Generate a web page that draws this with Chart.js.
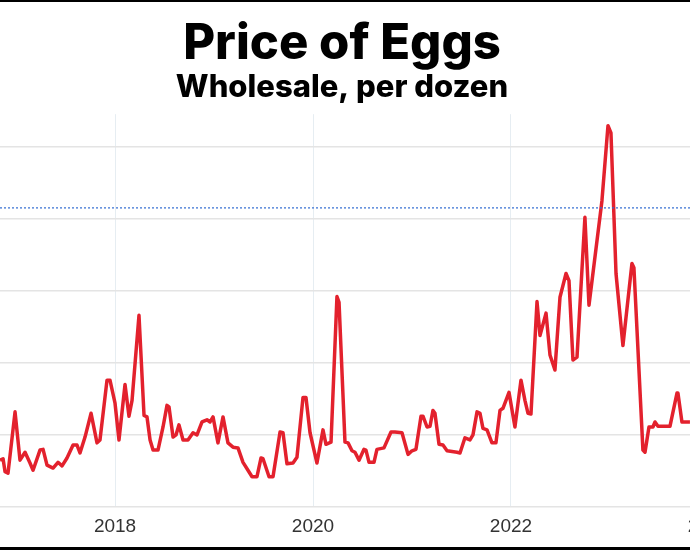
<!DOCTYPE html>
<html>
<head>
<meta charset="utf-8">
<title>Price of Eggs</title>
<script src="https://cdn.jsdelivr.net/npm/chart.js@4"></script>
<style>
  html, body { margin: 0; padding: 0; background: #fff; overflow: hidden; }
  body { width: 690px; height: 550px; position: relative; }
  #frame {
    position: absolute; left: 0; top: 0; width: 690px; height: 545px;
    border-top: 2px solid #000; border-bottom: 3px solid #000; overflow: hidden;
  }
  /* canvas runs past both sides, so the y labels and the last year are cut off */
  #wrap { position: absolute; left: -60px; top: 0; width: 804px; height: 545px; }
</style>
</head>
<body>
<div id="frame"><div id="wrap"><canvas id="eggChart"></canvas></div></div>
<script>
// Wholesale egg price, $ per dozen (decimal years)
const dates = [
  2016.838, 2016.869, 2016.889, 2016.919, 2016.990, 2017.040, 2017.091, 2017.141, 2017.172, 2017.242,
  2017.273, 2017.313, 2017.374, 2017.424, 2017.465, 2017.515, 2017.576, 2017.616, 2017.646, 2017.697,
  2017.758, 2017.818, 2017.848, 2017.919, 2017.949, 2018.000, 2018.040, 2018.101, 2018.141, 2018.172,
  2018.242, 2018.293, 2018.323, 2018.354, 2018.384, 2018.434, 2018.485, 2018.525, 2018.545, 2018.586,
  2018.616, 2018.646, 2018.687, 2018.737, 2018.788, 2018.828, 2018.879, 2018.929, 2018.960, 2018.990,
  2019.040, 2019.091, 2019.141, 2019.192, 2019.242, 2019.293, 2019.343, 2019.384, 2019.434, 2019.475,
  2019.495, 2019.556, 2019.596, 2019.667, 2019.697, 2019.737, 2019.798, 2019.838, 2019.899, 2019.929,
  2019.970, 2020.040, 2020.101, 2020.131, 2020.182, 2020.242, 2020.263, 2020.323, 2020.354, 2020.394,
  2020.424, 2020.465, 2020.515, 2020.535, 2020.566, 2020.616, 2020.646, 2020.717, 2020.788, 2020.828,
  2020.899, 2020.960, 2021.000, 2021.040, 2021.091, 2021.111, 2021.152, 2021.182, 2021.212, 2021.232,
  2021.273, 2021.313, 2021.354, 2021.455, 2021.485, 2021.535, 2021.586, 2021.616, 2021.657, 2021.687,
  2021.717, 2021.758, 2021.808, 2021.848, 2021.889, 2021.919, 2021.980, 2022.040, 2022.101, 2022.141,
  2022.172, 2022.202, 2022.263, 2022.293, 2022.354, 2022.394, 2022.444, 2022.495, 2022.556, 2022.586,
  2022.626, 2022.667, 2022.747, 2022.788, 2022.919, 2022.980, 2023.010, 2023.061, 2023.131, 2023.222,
  2023.242, 2023.333, 2023.354, 2023.394, 2023.434, 2023.455, 2023.485, 2023.606, 2023.677, 2023.687,
  2023.727, 2023.808
];
const prices = [
  0.65, 0.67, 0.49, 0.47, 1.32, 0.65, 0.76, 0.61, 0.51, 0.79,
  0.80, 0.58, 0.54, 0.62, 0.57, 0.68, 0.86, 0.86, 0.75, 0.97,
  1.30, 0.89, 0.93, 1.76, 1.76, 1.44, 0.93, 1.70, 1.26, 1.48,
  2.66, 1.27, 1.25, 0.93, 0.79, 0.79, 1.11, 1.41, 1.39, 0.97,
  1.00, 1.14, 0.93, 0.93, 1.03, 1.00, 1.18, 1.21, 1.18, 1.25,
  0.89, 1.25, 0.89, 0.83, 0.82, 0.62, 0.51, 0.42, 0.42, 0.68,
  0.67, 0.42, 0.42, 1.04, 1.03, 0.60, 0.61, 0.69, 1.52, 1.52,
  1.03, 0.61, 1.07, 0.87, 0.90, 2.92, 2.84, 0.90, 0.89, 0.78,
  0.76, 0.65, 0.80, 0.79, 0.62, 0.62, 0.80, 0.82, 1.04, 1.04,
  1.03, 0.73, 0.78, 0.80, 1.26, 1.26, 1.11, 1.12, 1.34, 1.30,
  0.87, 0.86, 0.78, 0.76, 0.75, 0.96, 0.93, 1.00, 1.32, 1.30,
  1.09, 1.07, 0.89, 0.89, 1.34, 1.37, 1.59, 1.11, 1.76, 1.48,
  1.30, 1.29, 2.85, 2.38, 2.69, 2.11, 1.90, 2.91, 3.24, 3.14,
  2.04, 2.08, 4.02, 2.80, 4.25, 5.29, 5.19, 3.24, 2.24, 3.38,
  3.32, 0.79, 0.76, 1.11, 1.11, 1.18, 1.12, 1.12, 1.58, 1.58,
  1.18, 1.18
];
const refLevel = 4.15;                 // dotted blue line
const yearTicks = [2018, 2020, 2022, 2024];
const priceTicks = [0, 1, 2, 3, 4, 5];

const xMin = 2016.838, xMax = 2024.354;

const ctx = document.getElementById('eggChart').getContext('2d');
new Chart(ctx, {
  type: 'line',
  data: {
    datasets: [
      {
        label: 'Reference',
        data: [{ x: xMin, y: refLevel }, { x: xMax, y: refLevel }],
        borderColor: '#2f6bd0',
        borderWidth: 1.2,
        borderDash: [2, 2],
        pointRadius: 0
      },
      {
        label: 'Price',
        data: dates.map((d, i) => ({ x: d, y: prices[i] })),
        borderColor: '#e3212d',
        borderWidth: 3.5,
        pointRadius: 0,
        tension: 0,
        borderJoinStyle: 'round'
      }
    ]
  },
  options: {
    responsive: true,
    maintainAspectRatio: false,
    animation: false,
    layout: { padding: 0 },
    plugins: {
      legend: { display: false },
      tooltip: { enabled: false },
      title: {
        display: true,
        text: 'Price of Eggs',
        color: '#000',
        font: { family: 'Inter', size: 49, weight: '800', lineHeight: 1.0 },
        padding: { top: 18, bottom: 0 }
      },
      subtitle: {
        display: true,
        text: 'Wholesale, per dozen',
        color: '#000',
        font: { family: 'Inter', size: 31, weight: '800', lineHeight: 1.2 },
        padding: { top: 0, bottom: 8 }
      }
    },
    scales: {
      x: {
        type: 'linear',
        min: xMin,
        max: xMax,
        afterBuildTicks: s => { s.ticks = yearTicks.map(v => ({ value: v })); },
        afterFit: s => { s.height = 40; },
        ticks: {
          color: '#333',
          font: { family: 'Liberation Sans', size: 19 },
          padding: 8,
          maxRotation: 0,
          callback: v => String(v)
        },
        grid: { color: '#e6edf2', lineWidth: 1, drawTicks: false },
        border: { display: false }
      },
      y: {
        min: 0,
        max: 5.45,
        afterBuildTicks: s => { s.ticks = priceTicks.map(v => ({ value: v })); },
        afterFit: s => { s.width = 60; },
        ticks: {
          color: '#333',
          font: { family: 'Liberation Sans', size: 19 },
          callback: v => '$' + v
        },
        grid: { color: '#e4e4e4', lineWidth: 1.5, drawTicks: false },
        border: { display: false }
      }
    }
  }
});
</script>
</body>
</html>
